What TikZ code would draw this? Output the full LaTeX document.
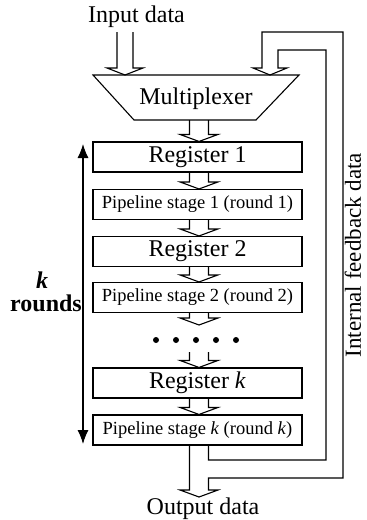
\documentclass[tikz,border=0pt]{standalone}
\usepackage{fontspec}
\setmainfont{Liberation Serif}
\usetikzlibrary{arrows.meta,calc}

% hollow block arrow from a named start point (top) to a named tip point
\newcommand\blockarrow[2]{%
  \draw[wire] ([xshift=-9.5pt]#1) -- ([xshift=-9.5pt,yshift=7pt]#2)
    -- ([xshift=-19pt,yshift=7pt]#2) -- (#2)
    -- ([xshift=19pt,yshift=7pt]#2) -- ([xshift=9.5pt,yshift=7pt]#2)
    -- ([xshift=9.5pt]#1);}

\begin{document}
\begin{tikzpicture}[x=1pt,y=-1pt,
  wire/.style={line width=1.1pt,line join=miter},
  stagebox/.style={draw,line width=1.1pt,minimum width=209pt,minimum height=30pt,inner sep=0pt,font=\fontsize{18.5}{20}\selectfont},
  regbox/.style={stagebox,font=\fontsize{24}{26}\selectfont},
  big/.style={font=\fontsize{24}{26}\selectfont}]
\useasboundingbox (0,0) rectangle (367,520);

% channel centre line
\coordinate (ch) at (199,0);

% titles
\node[big] (in) at (136.5,17) {Input data};
\node[big] (out) at (203,509) {Output data};

% multiplexer
\draw[wire] (93,75) -- (299,75) -- (256,120) -- (134,120) -- cycle;
\node[big] (mux) at (196,99) {Multiplexer};
\coordinate (muxtop) at (125,75);
\coordinate (muxbot) at (199,120);

% register and pipeline stages
\node[regbox]   (r1) at (197.5,157)   {Register 1};
\node[stagebox] (p1) at (197.5,204.5) {Pipeline stage 1 (round 1)};
\node[regbox]   (r2) at (197.5,251.5) {Register 2};
\node[stagebox] (p2) at (197.5,297.5) {Pipeline stage 2 (round 2)};
\node[regbox]   (rk) at (197.5,383)   {Register \textit{k}};
\node[stagebox] (pk) at (197.5,430)   {Pipeline stage \textit{k} (round \textit{k})};

% attachment points on the channel centre line
\foreach \n in {r1,p1,r2,p2,rk,pk} {
  \coordinate (\n n) at (\n.north -| ch);
  \coordinate (\n s) at (\n.south -| ch);
}
\coordinate (gap) at (199,325);
\coordinate (gapend) at (199,352);

% input arrow
\draw[wire] (117,32) -- (117,68) -- (107,68) -- (muxtop) -- (143,68) -- (133,68) -- (133,32);

% block arrows between stages
\blockarrow{muxbot}{r1n}
\blockarrow{r1s}{p1n}
\blockarrow{p1s}{r2n}
\blockarrow{r2s}{p2n}
\blockarrow{p2s}{gap}
\blockarrow{gapend}{rkn}
\blockarrow{rks}{pkn}

% ellipsis dots
\foreach \i/\xx in {1/156,2/176,3/196,4/216,5/236}
  \node[circle,fill,inner sep=0pt,minimum size=6pt] (d\i) at (\xx,340) {};

% output arrow with internal feedback channel
\draw[wire] ([xshift=-9.5pt]pks) -- (189.5,490) -- (180,490) -- (199,497) -- (218,490)
  -- (208.5,490) -- (208.5,478) -- (343,478) -- (343,32) -- (262,32) -- (262,68)
  -- (253,68) -- (270,75) -- (287,68) -- (278,68) -- (278,50) -- (326,50)
  -- (326,460) -- (208.5,460) -- ([xshift=9.5pt]pks);

\node[rotate=90,inner sep=0pt,font=\fontsize{23}{25}\selectfont] (fb) at (353,255) {Internal feedback data};

% k rounds span
\coordinate (kt) at (83,144);
\coordinate (kb) at (83,444);
\draw[line width=1.1pt,{Latex[length=14pt,width=11pt]}-{Latex[length=14pt,width=11pt]}] (kt) -- (kb);
\node[big] (k) at (42,280) {\textbf{\textit{k}}};
\node[big] (rounds) at (46,303) {\textbf{rounds}};
\end{tikzpicture}
\end{document}
